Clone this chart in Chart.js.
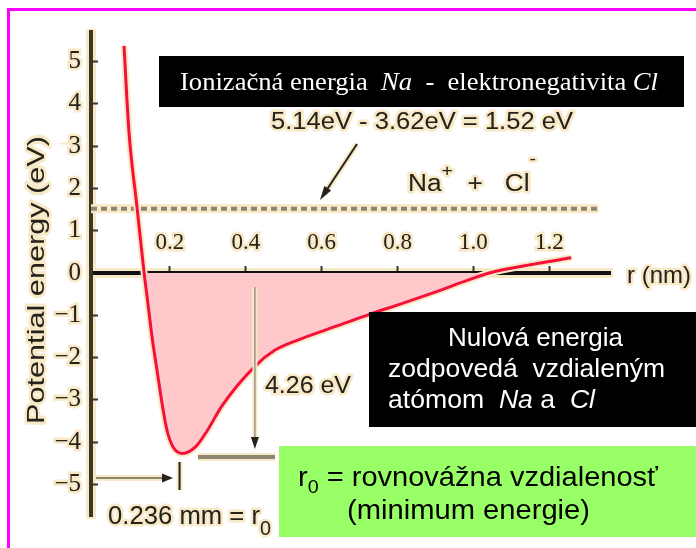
<!DOCTYPE html>
<html><head><meta charset="utf-8">
<script src="https://cdn.jsdelivr.net/npm/chart.js@4.4.1/dist/chart.umd.min.js"></script>
<style>html,body{margin:0;padding:0;background:#fff;} #wrap{width:696px;height:548px;position:relative;}</style>
</head><body><div id="wrap"><canvas id="c" width="696" height="548"></canvas></div>
<script>
// ---- data ----
const rValues      = [0.079, 0.092, 0.113, 0.132, 0.142, 0.153, 0.166, 0.179, 0.192, 0.208, 0.234, 0.268, 0.297, 0.339, 0.424, 0.476, 0.542, 0.639, 0.726, 0.813, 0.903, 0.989, 1.042, 1.166, 1.258];
const energyValues = [5.37, 3.35, 1.58, 0.00, -0.72, -1.52, -2.30, -3.07, -3.71, -4.11, -4.27, -4.11, -3.75, -3.12, -2.21, -1.83, -1.57, -1.26, -0.98, -0.72, -0.44, -0.16, 0.00, 0.22, 0.36];
const dissociationEnergy = 1.52;
const dissociationR = [-0.008, 1.33];
const xTickValues = [0.2, 0.4, 0.6, 0.8, 1.0, 1.2];
const xTickLabels = ['0.2', '0.4', '0.6', '0.8', '1.0', '1.2'];
const yTickValues = [5, 4, 3, 2, 1, 0, -1, -2, -3, -4, -5];
const yTickLabels = ['5', '4', '3', '2', '1', '0', '\u22121', '\u22122', '\u22123', '\u22124', '\u22125'];

const HALO = '#f8e9c6';
const INK = '#25211b';
const RED = '#f5103c';
const PINK = '#ffc9cc';

const curveData = rValues.map((r, i) => ({x: r, y: energyValues[i]}));
const dashData = dissociationR.map(r => ({x: r, y: dissociationEnergy}));

function drawRuns(ctx, runs, x, y, o) {
  ctx.save();
  let natural = 0;
  runs.forEach(r => { ctx.font = r.font; r.w = ctx.measureText(r.text).width; natural += r.w; });
  const sx = o.width ? o.width / natural : 1;
  const total = natural * sx;
  let x0 = o.align === 'center' ? x - total / 2 : x;
  ctx.translate(x0, y);
  ctx.scale(sx, 1);
  ctx.textBaseline = 'middle';
  ctx.textAlign = 'left';
  ctx.lineJoin = 'round';
  let cx = 0;
  runs.forEach(r => {
    ctx.font = r.font;
    if (o.halo) { ctx.strokeStyle = o.halo; ctx.lineWidth = 5; ctx.strokeText(r.text, cx, r.dy || 0); }
    ctx.fillStyle = o.color;
    ctx.fillText(r.text, cx, r.dy || 0);
    cx += r.w;
  });
  ctx.restore();
}
function line(ctx, pts, w, color, dash) {
  ctx.save(); ctx.beginPath(); ctx.lineWidth = w; ctx.strokeStyle = color; ctx.lineCap = 'butt';
  if (dash) ctx.setLineDash(dash);
  ctx.moveTo(pts[0], pts[1]); ctx.lineTo(pts[2], pts[3]); ctx.stroke(); ctx.restore();
}
function head(ctx, x1, y1, x2, y2, len, wid, color) {
  const a = Math.atan2(y2 - y1, x2 - x1);
  ctx.save(); ctx.translate(x2, y2); ctx.rotate(a); ctx.beginPath();
  ctx.moveTo(0, 0); ctx.lineTo(-len, -wid / 2); ctx.lineTo(-len, wid / 2); ctx.closePath();
  ctx.fillStyle = color; ctx.fill(); ctx.restore();
}

const SANS = '"Liberation Sans", Arial, sans-serif';
const SERIF = '"Liberation Serif", "Times New Roman", serif';

const decor = {
  id: 'decor',
  beforeDraw(chart) {
    const ctx = chart.ctx, xs = chart.scales.x, ys = chart.scales.y;
    const y0 = ys.getPixelForValue(0);
    line(ctx, [xs.left, y0, xs.right + 3, y0], 10, HALO);
    line(ctx, [xs.left, ys.top - 3, xs.left, ys.bottom + 3], 10, HALO);
  },
  afterDraw(chart) {
    const ctx = chart.ctx, xs = chart.scales.x, ys = chart.scales.y;
    // magenta frame (left and top)
    line(ctx, [8.5, 8, 8.5, 548], 3, '#ff00ff');
    line(ctx, [7, 9.5, 696, 9.5], 3, '#ff00ff');

    // y axis title
    ctx.save(); ctx.translate(37, 280); ctx.rotate(-Math.PI / 2);
    drawRuns(ctx, [{text: 'Potential energy (eV)', font: '24px ' + SANS}], 0, 0, {align: 'center', width: 288, color: INK, halo: HALO});
    ctx.restore();

    // r (nm)
    drawRuns(ctx, [{text: 'r (nm)', font: '24px ' + SANS}], 627, 276, {width: 64, color: INK, halo: HALO});

    // formula
    drawRuns(ctx, [{text: '5.14eV - 3.62eV = 1.52 eV', font: '23px ' + SANS}], 271, 123, {width: 302, color: INK, halo: HALO});
    // Na+ + Cl-
    drawRuns(ctx, [
      {text: 'Na', font: '23px ' + SANS},
      {text: '+', font: '17px ' + SANS, dy: -14},
      {text: '  +   ', font: '23px ' + SANS},
      {text: 'Cl', font: '23px ' + SANS},
      {text: '-', font: '17px ' + SANS, dy: -26}
    ], 408, 185, {width: 128, color: INK, halo: HALO});

    // diagonal arrow to dashed line
    line(ctx, [357, 144, 324, 194], 6, HALO);
    line(ctx, [357, 144, 324, 194], 2, INK);
    head(ctx, 357, 144, 320, 200, 14, 8, INK);

    // 4.26 eV vertical arrow
    const xa = xs.getPixelForValue(0.424);
    line(ctx, [xa, 287, xa, 440], 5, HALO);
    line(ctx, [xa, 287, xa, 440], 1.5, '#9a9284');
    head(ctx, xa, 287, xa, 449, 12, 8, INK);
    line(ctx, [198, 457, 275, 457], 8, HALO);
    line(ctx, [198, 457, 275, 457], 4, '#8c8570');
    drawRuns(ctx, [{text: '4.26 eV', font: '23px ' + SANS}], 265, 387, {width: 86, color: INK, halo: HALO});

    // r0 marker
    const xr = xs.getPixelForValue(0.236) - 4;
    line(ctx, [96, 478, 166, 478], 6, HALO);
    line(ctx, [96, 478, 166, 478], 2, '#8c8570');
    head(ctx, 96, 478, 173, 478, 11, 9, INK);
    line(ctx, [xr, 462, xr, 490], 6, HALO);
    line(ctx, [xr, 462, xr, 490], 2, INK);
    drawRuns(ctx, [
      {text: '0.236 mm = r', font: '26px ' + SANS},
      {text: '0', font: '20px ' + SANS, dy: 12}
    ], 108, 517, {width: 163, color: INK, halo: HALO});

    // black box 1
    ctx.fillStyle = '#000'; ctx.fillRect(159, 56, 525, 51);
    drawRuns(ctx, [
      {text: 'Ionizačná energia  ', font: '26px ' + SERIF},
      {text: 'Na', font: 'italic 26px ' + SERIF},
      {text: '  -  elektronegativita ', font: '26px ' + SERIF},
      {text: 'Cl', font: 'italic 26px ' + SERIF}
    ], 180, 83, {width: 478, color: '#fff'});

    // black box 2
    ctx.fillStyle = '#000'; ctx.fillRect(369, 312, 327, 115);
    drawRuns(ctx, [{text: 'Nulová energia', font: '25px ' + SANS}], 448, 339, {width: 175, color: '#fff'});
    drawRuns(ctx, [{text: 'zodpovedá  vzdialeným', font: '25px ' + SANS}], 388, 370, {width: 277, color: '#fff'});
    drawRuns(ctx, [
      {text: 'atómom  ', font: '25px ' + SANS},
      {text: 'Na', font: 'italic 25px ' + SANS},
      {text: ' a  ', font: '25px ' + SANS},
      {text: 'Cl', font: 'italic 25px ' + SANS}
    ], 388, 401, {width: 207, color: '#fff'});

    // green box
    ctx.fillStyle = '#99ff66'; ctx.fillRect(279, 446, 417, 91);
    drawRuns(ctx, [
      {text: 'r', font: '28px ' + SANS},
      {text: '0', font: '19px ' + SANS, dy: 10},
      {text: ' = rovnovážna vzdialenosť', font: '28px ' + SANS}
    ], 298, 478, {width: 360, color: '#000'});
    drawRuns(ctx, [{text: '(minimum energie)', font: '28px ' + SANS}], 347, 511, {width: 243, color: '#000'});
  }
};

new Chart(document.getElementById('c'), {
  type: 'line',
  data: {
    datasets: [
      {data: curveData, borderColor: RED, borderWidth: 3, pointRadius: 0, cubicInterpolationMode: 'monotone',
       fill: {target: {value: 0}, above: 'rgba(0,0,0,0)', below: PINK}},
      {data: curveData, borderColor: HALO, borderWidth: 7, pointRadius: 0, cubicInterpolationMode: 'monotone', fill: false},
      {data: dashData, borderColor: '#8c8572', borderWidth: 4, borderDash: [6, 4], pointRadius: 0, fill: false},
      {data: dashData, borderColor: HALO, borderWidth: 9, pointRadius: 0, fill: false}
    ]
  },
  options: {
    responsive: false, animation: false, devicePixelRatio: 1,
    layout: {padding: {left: 0, right: 86, top: 30, bottom: 31}},
    plugins: {legend: {display: false}, tooltip: {enabled: false}},
    scales: {
      x: {
        type: 'linear', min: -0.008, max: 1.36, position: {y: 0}, z: 1,
        border: {color: '#111', width: 4},
        grid: {drawOnChartArea: false, tickLength: -9, tickWidth: 2, tickColor: '#333'},
        afterBuildTicks: s => { s.ticks = xTickValues.map(v => ({value: v})); },
        ticks: {padding: -35, color: INK, font: {family: SERIF, size: 23}, textStrokeColor: HALO, textStrokeWidth: 5,
          callback: (v) => { const i = xTickValues.findIndex(t => Math.abs(t - v) < 1e-6); return i >= 0 ? xTickLabels[i] : ''; }}
      },
      y: {
        type: 'linear', min: -5.75, max: 5.7, position: 'left',
        border: {color: '#3b352a', width: 4},
        grid: {drawOnChartArea: false, tickLength: -7, tickWidth: 2, tickColor: '#3b352a'},
        afterBuildTicks: s => { s.ticks = yTickValues.map(v => ({value: v})); },
        afterFit: s => { s.width = 91; },
        ticks: {padding: 17, color: INK, font: {family: SERIF, size: 25}, textStrokeColor: HALO, textStrokeWidth: 5,
          callback: (v) => { const i = yTickValues.findIndex(t => Math.abs(t - v) < 1e-6); return i >= 0 ? yTickLabels[i] : ''; }}
      }
    }
  },
  plugins: [decor]
});
</script></body></html>
